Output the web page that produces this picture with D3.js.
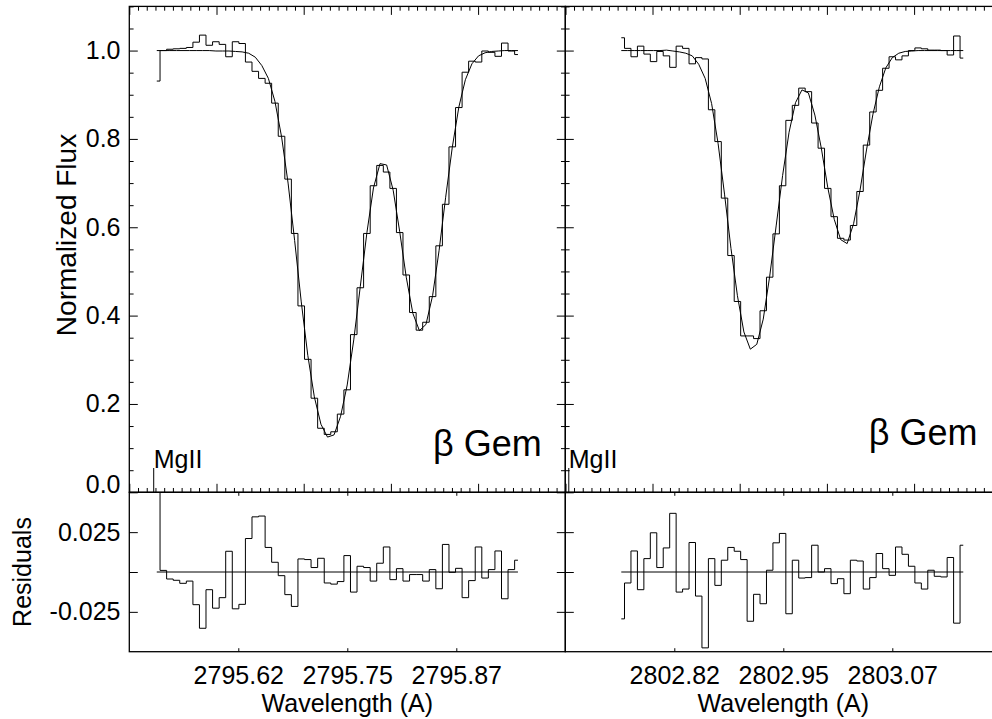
<!DOCTYPE html>
<html><head><meta charset="utf-8">
<script src="https://cdn.jsdelivr.net/npm/d3@7"></script>
<style>
body{margin:0;background:#fff;}
svg{display:block;background:#fff;}
</style></head><body>
<svg id="chart" width="992" height="719"></svg>
<script>
// ---------------- DATA ----------------
// Mg II k (2796) panel
const waveK = [2795.5315,2795.5390,2795.5466,2795.5541,2795.5616,2795.5692,2795.5767,2795.5842,2795.5917,2795.5993,
  2795.6068,2795.6143,2795.6219,2795.6294,2795.6369,2795.6445,2795.6520,2795.6595,2795.6670,2795.6746,
  2795.6821,2795.6896,2795.6972,2795.7047,2795.7122,2795.7198,2795.7273,2795.7348,2795.7423,2795.7499,
  2795.7574,2795.7649,2795.7725,2795.7800,2795.7875,2795.7951,2795.8026,2795.8101,2795.8176,2795.8252,
  2795.8327,2795.8402,2795.8478,2795.8553,2795.8628,2795.8704,2795.8779,2795.8854,2795.8929,2795.9005,
  2795.9080,2795.9155,2795.9231,2795.9306,2795.9381,2795.9457];
const fluxK = [0.931,1.000,1.003,1.004,1.005,1.007,1.019,1.035,1.012,1.020,
  1.014,0.986,1.020,1.016,0.974,0.953,0.937,0.926,0.881,0.806,
  0.709,0.586,0.422,0.301,0.213,0.145,0.131,0.137,0.177,0.232,
  0.357,0.463,0.586,0.694,0.740,0.725,0.688,0.588,0.492,0.407,
  0.367,0.385,0.443,0.558,0.652,0.782,0.871,0.951,0.976,0.974,
  0.999,0.996,0.987,1.017,0.999,0.991];
const modelK = [1.000,1.000,1.000,1.000,1.000,1.000,1.000,1.000,1.000,0.999,
  0.999,0.999,0.998,0.997,0.994,0.985,0.966,0.937,0.885,0.805,
  0.700,0.570,0.431,0.310,0.216,0.154,0.125,0.130,0.172,0.243,
  0.345,0.466,0.588,0.689,0.744,0.741,0.684,0.590,0.487,0.405,
  0.366,0.380,0.445,0.548,0.668,0.781,0.872,0.934,0.970,0.988,
  0.995,0.998,0.999,1.000,1.000,1.000];
const residK = [0.069,0.001,-0.0044,-0.0052,-0.0071,-0.0057,-0.0205,-0.0353,-0.0111,-0.0227,
  -0.0161,0.0130,-0.0231,-0.0203,0.0210,0.0346,0.0351,0.0154,0.0061,-0.0023,
  -0.0142,-0.0216,0.0082,0.0078,0.0028,0.0086,-0.0069,-0.0076,-0.0060,0.0103,
  -0.0126,0.0036,0.0028,-0.0057,0.0055,0.0157,-0.0048,0.0021,-0.0057,-0.0016,
  -0.0016,-0.0057,0.0015,-0.0105,0.0173,-0.0002,0.0023,-0.0161,-0.0054,0.0157,
  -0.0038,0.0015,0.0132,-0.0168,0.0015,0.0074];

// Mg II h (2803) panel
const waveH = [2802.7642,2802.7716,2802.7790,2802.7864,2802.7938,2802.8012,2802.8086,2802.8160,2802.8234,2802.8308,
  2802.8382,2802.8456,2802.8530,2802.8604,2802.8678,2802.8752,2802.8826,2802.8900,2802.8974,2802.9048,
  2802.9122,2802.9196,2802.9270,2802.9344,2802.9418,2802.9492,2802.9566,2802.9640,2802.9714,2802.9788,
  2802.9862,2802.9936,2803.0010,2803.0084,2803.0158,2803.0232,2803.0306,2803.0380,2803.0454,2803.0528,
  2803.0602,2803.0676,2803.0750,2803.0824,2803.0898,2803.0972,2803.1046,2803.1120,2803.1194,2803.1268,
  2803.1342,2803.1416,2803.1490,2803.1564];
const fluxH = [1.029,1.005,0.986,1.010,0.992,0.975,0.998,0.988,0.962,1.010,
  1.005,0.970,0.984,0.981,0.866,0.794,0.666,0.536,0.432,0.354,
  0.354,0.348,0.411,0.487,0.585,0.694,0.842,0.876,0.915,0.907,
  0.836,0.779,0.688,0.624,0.575,0.571,0.604,0.681,0.786,0.861,
  0.910,0.960,0.986,0.979,0.988,1.000,1.006,1.004,1.001,1.001,
  1.000,0.990,1.033,0.983];
const modelH = [1.000,1.000,1.000,1.000,1.000,1.000,1.000,1.001,0.999,0.997,
  0.994,0.988,0.969,0.937,0.880,0.790,0.675,0.552,0.445,0.363,
  0.324,0.335,0.392,0.489,0.603,0.717,0.815,0.882,0.911,0.904,
  0.854,0.779,0.690,0.618,0.572,0.563,0.608,0.684,0.775,0.856,
  0.918,0.961,0.984,0.994,0.998,0.999,1.000,1.000,1.000,1.000,
  1.000,1.000,1.000,1.000];
const residH = [-0.0294,-0.0069,0.0132,-0.0111,0.0084,0.0246,0.0028,0.0151,0.0368,-0.0126,
  -0.0107,0.0185,-0.0151,-0.0476,0.0084,-0.0084,0.0074,0.0154,0.0130,0.0078,
  -0.0309,-0.0140,-0.0199,0.0011,0.0183,0.0242,-0.0262,0.0074,-0.0038,-0.0035,
  0.0168,0.0000,0.0021,-0.0073,-0.0042,-0.0136,0.0074,0.0069,-0.0107,-0.0035,
  0.0116,0.0021,-0.0021,0.0157,0.0111,0.0036,-0.0069,-0.0107,0.0011,-0.0027,
  -0.0031,0.0091,-0.0321,0.0168];

// axes / ticks
const domainK = [2795.5, 2796.0];
const domainH = [2802.7, 2803.2];
const fluxDomain = [0, 1.1];
const residDomain = [-0.05, 0.05];
const fluxTicks = [0.0, 0.2, 0.4, 0.6, 0.8, 1.0];
const fluxTickLabels = ["0.0", "0.2", "0.4", "0.6", "0.8", "1.0"];
const residTicks = [-0.025, 0, 0.025];
const residTickLabels = ["-0.025", "", "0.025"];
const waveTicksK = [2795.625, 2795.75, 2795.875];
const waveTickLabelsK = ["2795.62", "2795.75", "2795.87"];
const waveTicksH = [2802.825, 2802.95, 2803.075];
const waveTickLabelsH = ["2802.82", "2802.95", "2803.07"];

// annotations
const lineLabel = "MgII";
const lineWaves = [2795.528, 2802.704];
const lineMarkTop = 0.055;
const starLabel = "\u03B2 Gem";
const starWaves = [2795.973, 2803.1726];
const starFlux = [0.082, 0.107];
const yTitleTop = "Normalized Flux";
const yTitleBot = "Residuals";
const xTitle = "Wavelength (A)";

// ---------------- DRAW ----------------
const FONT = '"Liberation Sans", Arial, Helvetica, sans-serif';
const FS = 25;
const svg = d3.select("#chart");
const defs = svg.append("defs");

const plotLeft = 129.3, panelWidth = 436;
const topY0 = 6.4, topY1 = 492.3, botY1 = 651.7;
const yF = d3.scaleLinear().domain(fluxDomain).range([topY1, topY0]);
const yR = d3.scaleLinear().domain(residDomain).range([botY1, topY1]);

function styleAxis(g) {
  g.select(".domain").remove();
  g.selectAll(".tick line").attr("stroke", "#000").attr("stroke-width", 1);
  g.selectAll(".tick text").attr("font-size", FS).attr("font-family", FONT).attr("fill", "#000");
  return g;
}

const cols = [
  {wave: waveK, flux: fluxK, model: modelK, resid: residK, domain: domainK, ticks: waveTicksK, tickLabels: waveTickLabelsK},
  {wave: waveH, flux: fluxH, model: modelH, resid: residH, domain: domainH, ticks: waveTicksH, tickLabels: waveTickLabelsH}
];

const majY = fluxTicks;
const minY = yF.ticks(22).filter(v => !majY.some(m => Math.abs(m - v) < 1e-9));

cols.forEach((c, ci) => {
  const x0 = plotLeft + ci * panelWidth, x1 = x0 + panelWidth;
  const x = d3.scaleLinear().domain(c.domain).range([x0, x1]);
  const g = svg.append("g");

  const ct = "clipT" + ci, cb = "clipB" + ci;
  defs.append("clipPath").attr("id", ct).append("rect")
    .attr("x", x0).attr("y", topY0).attr("width", panelWidth).attr("height", topY1 - topY0);
  defs.append("clipPath").attr("id", cb).append("rect")
    .attr("x", x0).attr("y", topY1).attr("width", panelWidth).attr("height", botY1 - topY1);

  // ---- top panel ----
  const modelPts = c.wave.map((w, i) => [w, c.model[i]]);
  const fluxPts = c.wave.map((w, i) => [w, c.flux[i]]);
  g.append("path").attr("clip-path", `url(#${ct})`)
    .attr("d", d3.line().x(d => x(d[0])).y(d => yF(d[1]))(modelPts))
    .attr("fill", "none").attr("stroke", "#000").attr("stroke-width", 1);
  g.append("path").attr("clip-path", `url(#${ct})`)
    .attr("d", d3.line().x(d => x(d[0])).y(d => yF(d[1])).curve(d3.curveStep)(fluxPts))
    .attr("fill", "none").attr("stroke", "#000").attr("stroke-width", 1);

  // line marker
  const lx = x(lineWaves[ci]);
  g.append("line").attr("x1", lx).attr("x2", lx).attr("y1", yF(0)).attr("y2", yF(lineMarkTop))
    .attr("stroke", "#000").attr("stroke-width", 1);
  g.append("text").attr("x", lx).attr("y", yF(lineMarkTop)).text(lineLabel)
    .attr("font-size", FS).attr("font-family", FONT);
  // star label
  g.append("text").attr("x", x(starWaves[ci])).attr("y", yF(starFlux[ci])).attr("text-anchor", "end")
    .text(starLabel).attr("font-size", 36).attr("font-family", FONT);

  // top panel frame
  g.append("rect").attr("x", x0).attr("y", topY0).attr("width", panelWidth).attr("height", topY1 - topY0)
    .attr("fill", "none").attr("stroke", "#000").attr("stroke-width", 1.3);

  const majX = x.ticks(5);
  const minX = x.ticks(50).filter(v => !majX.some(m => Math.abs(m - v) < 1e-7));
  [[d3.axisBottom, topY1], [d3.axisTop, topY0]].forEach(([ax, yy]) => {
    styleAxis(g.append("g").attr("transform", `translate(0,${yy})`)
      .call(ax(x).tickValues(majX).tickSize(-8.5).tickSizeOuter(0).tickFormat("")));
    styleAxis(g.append("g").attr("transform", `translate(0,${yy})`)
      .call(ax(x).tickValues(minX).tickSize(-4.3).tickSizeOuter(0).tickFormat("")));
  });
  // y axes of top panel
  const yl = styleAxis(g.append("g").attr("transform", `translate(${x0},0)`)
    .call(d3.axisLeft(yF).tickValues(majY).tickSize(-8.5).tickSizeOuter(0).tickPadding(8.8)
      .tickFormat((d, i) => ci === 0 ? fluxTickLabels[i] : "")));
  yl.selectAll(".tick text").filter(d => d === 0).attr("dy", "0.0em");
  styleAxis(g.append("g").attr("transform", `translate(${x0},0)`)
    .call(d3.axisLeft(yF).tickValues(minY).tickSize(-4.3).tickSizeOuter(0).tickFormat("")));
  styleAxis(g.append("g").attr("transform", `translate(${x1},0)`)
    .call(d3.axisRight(yF).tickValues(majY).tickSize(-8.5).tickSizeOuter(0).tickFormat("")));
  styleAxis(g.append("g").attr("transform", `translate(${x1},0)`)
    .call(d3.axisRight(yF).tickValues(minY).tickSize(-4.3).tickSizeOuter(0).tickFormat("")));

  // ---- bottom panel ----
  const residPts = c.wave.map((w, i) => [w, c.resid[i]]);
  g.append("line").attr("x1", x(c.wave[0])).attr("x2", x(c.wave[c.wave.length - 1]))
    .attr("y1", yR(0)).attr("y2", yR(0)).attr("stroke", "#000").attr("stroke-width", 1);
  g.append("path").attr("clip-path", `url(#${cb})`)
    .attr("d", d3.line().x(d => x(d[0])).y(d => yR(d[1])).curve(d3.curveStep)(residPts))
    .attr("fill", "none").attr("stroke", "#000").attr("stroke-width", 1);

  g.append("rect").attr("x", x0).attr("y", topY1).attr("width", panelWidth).attr("height", botY1 - topY1)
    .attr("fill", "none").attr("stroke", "#000").attr("stroke-width", 1.3);

  const xb = styleAxis(g.append("g").attr("transform", `translate(0,${botY1})`)
    .call(d3.axisBottom(x).tickValues(c.ticks).tickSize(-3.5).tickSizeOuter(0).tickPadding(0)
      .tickFormat((d, i) => c.tickLabels[i])));
  xb.selectAll(".tick text").attr("y", 32.5).attr("dy", 0);
  styleAxis(g.append("g").attr("transform", `translate(0,${topY1})`)
    .call(d3.axisTop(x).tickValues(c.ticks).tickSize(-3.5).tickSizeOuter(0).tickFormat("")));
  styleAxis(g.append("g").attr("transform", `translate(${x0},0)`)
    .call(d3.axisLeft(yR).tickValues(residTicks).tickSize(-8.5).tickSizeOuter(0).tickPadding(8.8)
      .tickFormat((d, i) => ci === 0 ? residTickLabels[i] : "")));
  styleAxis(g.append("g").attr("transform", `translate(${x1},0)`)
    .call(d3.axisRight(yR).tickValues(residTicks).tickSize(-8.5).tickSizeOuter(0).tickFormat("")));

  g.append("text").attr("x", (x0 + x1) / 2).attr("y", 712).attr("text-anchor", "middle")
    .text(xTitle).attr("font-size", FS).attr("font-family", FONT);
});

svg.append("text").attr("transform", "translate(76,235) rotate(-90)").attr("text-anchor", "middle")
  .text(yTitleTop).attr("font-size", 28).attr("font-family", FONT);
svg.append("text").attr("transform", "translate(31,572) rotate(-90)").attr("text-anchor", "middle")
  .text(yTitleBot).attr("font-size", FS).attr("font-family", FONT);
</script>
</body></html>
